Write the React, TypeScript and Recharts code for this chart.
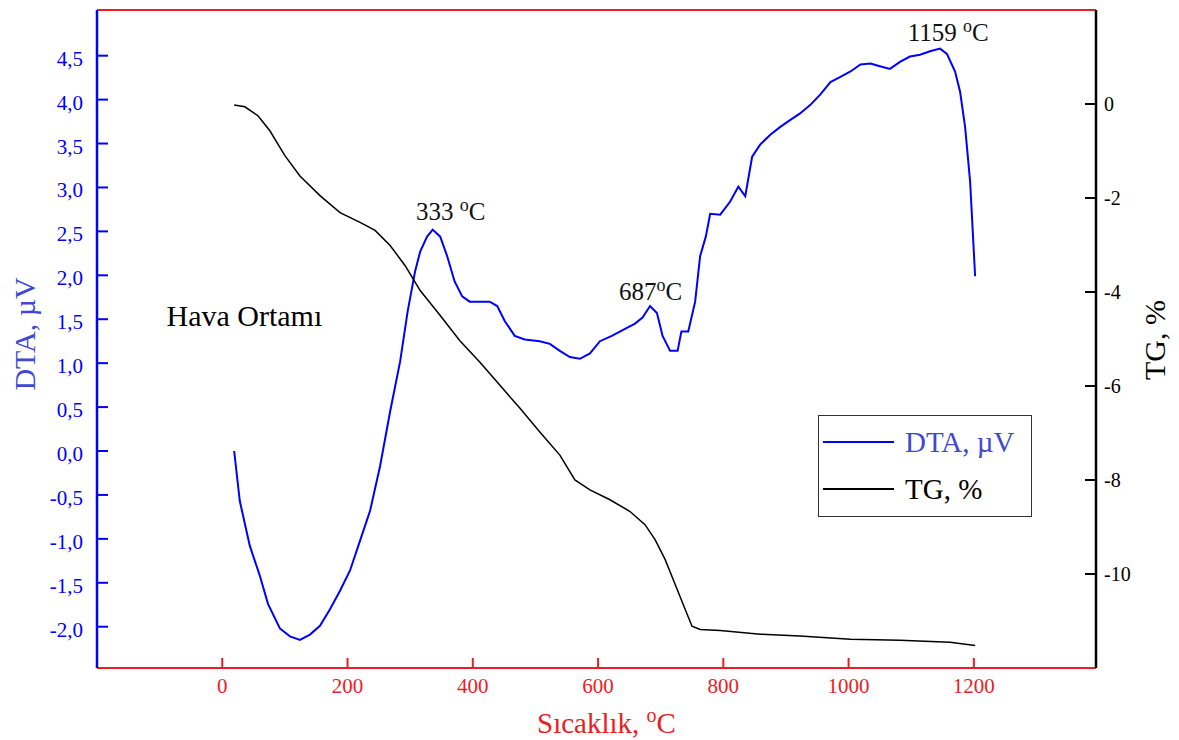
import { LineChart, Line, XAxis, YAxis, ReferenceDot, Legend } from 'recharts';

const SERIF = '"Liberation Serif", "Times New Roman", serif';
const RED = '#ee1c25';
const BLUE = '#0000ff';
const TITLE_BLUE = '#4048d4';

// DTA curve: [temperature °C, µV]
const dtaPoints: [number, number][] = [
  [19, 0], [28, -0.57], [44, -1.08], [60, -1.42], [73, -1.74], [92, -2.02], [108, -2.11],
  [124, -2.15], [140, -2.09], [156, -1.99], [172, -1.8], [188, -1.59], [204, -1.36],
  [220, -1.02], [236, -0.68], [252, -0.17], [268, 0.45], [284, 1.02], [296, 1.59],
  [308, 2.05], [316, 2.27], [327, 2.44], [336, 2.52], [348, 2.44], [359, 2.22],
  [371, 1.93], [383, 1.76], [395, 1.7], [411, 1.7], [427, 1.7], [439, 1.65], [451, 1.48],
  [467, 1.31], [483, 1.27], [507, 1.25], [523, 1.22], [539, 1.14], [555, 1.07],
  [571, 1.05], [587, 1.11], [603, 1.25], [622, 1.31], [643, 1.39], [659, 1.45],
  [671, 1.52], [683, 1.65], [694, 1.57], [703, 1.31], [715, 1.14], [727, 1.14],
  [733, 1.36], [744, 1.36], [755, 1.7], [763, 2.22], [772, 2.44], [779, 2.7], [795, 2.69],
  [811, 2.84], [824, 3.01], [835, 2.9], [846, 3.35], [859, 3.49], [875, 3.6], [891, 3.69],
  [907, 3.77], [922, 3.84], [939, 3.94], [955, 4.06], [971, 4.2], [987, 4.26],
  [1003, 4.32], [1019, 4.4], [1035, 4.41], [1050, 4.38], [1066, 4.35], [1082, 4.43],
  [1098, 4.49], [1114, 4.51], [1130, 4.55], [1146, 4.58], [1157, 4.52], [1170, 4.32],
  [1178, 4.09], [1186, 3.69], [1194, 3.07], [1202, 1.99],
];

// TG curve: [temperature °C, %]
const tgPoints: [number, number][] = [
  [19, -0.02], [36, -0.06], [57, -0.25], [76, -0.57], [100, -1.1], [124, -1.53],
  [156, -1.95], [188, -2.31], [220, -2.52], [244, -2.69], [268, -3.01], [292, -3.44],
  [316, -3.97], [348, -4.5], [379, -5.03], [411, -5.49], [443, -5.98], [475, -6.47],
  [507, -6.98], [539, -7.47], [563, -8.0], [587, -8.21], [619, -8.42], [651, -8.67],
  [675, -8.95], [691, -9.27], [707, -9.69], [723, -10.22], [739, -10.75], [750, -11.11],
  [763, -11.18], [795, -11.2], [859, -11.28], [922, -11.32], [1003, -11.39],
  [1082, -11.41], [1162, -11.45], [1202, -11.52],
];

const tempTicks = [0, 200, 400, 600, 800, 1000, 1200];
const dtaTicks = [-2, -1.5, -1, -0.5, 0, 0.5, 1, 1.5, 2, 2.5, 3, 3.5, 4, 4.5];
const tgTicks = [-10, -8, -6, -4, -2, 0];

const peakTemps = [333, 687, 1159];
const peakDta = [2.52, 1.65, 4.58];
const peakText = ['333 ', '687', '1159 '];

const dtaData = dtaPoints.map(([t, v]) => ({ t, v }));
const tgData = tgPoints.map(([t, v]) => ({ t, v }));

const peakOffsets = [
  { dx: 20, dy: -10 },
  { dx: -2, dy: -6 },
  { dx: 0, dy: -8 },
];

const comma = (v: number) => v.toFixed(1).replace('.', ',');

function BottomTick({ x, y, payload }: any) {
  return (
    <g>
      <line x1={x} y1={y} x2={x} y2={y - 10} stroke={RED} strokeWidth={2} />
      <text x={x} y={y + 25} textAnchor="middle" fill={RED} fontFamily={SERIF} fontSize={21}>
        {payload.value}
      </text>
    </g>
  );
}

function TopTick({ x, y }: any) {
  return <line x1={x} y1={y} x2={x} y2={y + 10} stroke={RED} strokeWidth={2} />;
}

function LeftTick({ x, y, payload }: any) {
  return (
    <g>
      <line x1={x} y1={y} x2={x + 11} y2={y} stroke={BLUE} strokeWidth={2} />
      <text x={x - 14} y={y + 10} textAnchor="end" fill={BLUE} fontFamily={SERIF} fontSize={21}>
        {comma(payload.value)}
      </text>
    </g>
  );
}

function RightTick({ x, y, payload }: any) {
  return (
    <g>
      <line x1={x} y1={y} x2={x - 11} y2={y} stroke="#000" strokeWidth={2} />
      <text x={x + 8} y={y + 7} textAnchor="start" fill="#000" fontFamily={SERIF} fontSize={20}>
        {payload.value}
      </text>
    </g>
  );
}

function PeakLabel({ viewBox, text, dx, dy }: any) {
  const x = viewBox.x + viewBox.width / 2 + dx;
  const y = viewBox.y + viewBox.height / 2 + dy;
  return (
    <text x={x} y={y} textAnchor="middle" fontFamily={SERIF} fontSize={25} fill="#111">
      {text}
      <tspan dy={-9} fontSize={18}>o</tspan>
      <tspan dy={9}>C</tspan>
    </text>
  );
}

function NoteLabel({ viewBox }: any) {
  return (
    <text x={viewBox.x} y={viewBox.y} fontFamily={SERIF} fontSize={30} fill="#000">
      Hava Ortamı
    </text>
  );
}

function DtaTitle({ viewBox }: any) {
  const x = viewBox.x + 18;
  const y = viewBox.y + viewBox.height / 2 - 5;
  return (
    <text x={x} y={y} transform={`rotate(-90, ${x}, ${y})`} textAnchor="middle"
      fontFamily={SERIF} fontSize={30} fill={TITLE_BLUE}>
      DTA, µV
    </text>
  );
}

function TgTitle({ viewBox }: any) {
  const x = viewBox.x + 69;
  const y = viewBox.y + viewBox.height / 2 + 1;
  return (
    <text x={x} y={y} transform={`rotate(-90, ${x}, ${y})`} textAnchor="middle"
      fontFamily={SERIF} fontSize={30} fill="#000">
      TG, %
    </text>
  );
}

function TempTitle({ viewBox }: any) {
  const x = viewBox.x + viewBox.width / 2 + 10;
  const y = viewBox.y + 65;
  return (
    <text x={x} y={y} textAnchor="middle" fontFamily={SERIF} fontSize={29} fill={RED}>
      {'Sıcaklık, '}
      <tspan dy={-11} fontSize={20}>o</tspan>
      <tspan dy={11}>C</tspan>
    </text>
  );
}

function LegendBox({ payload }: any) {
  return (
    <div
      style={{
        width: 214,
        height: 102,
        boxSizing: 'border-box',
        border: '1.5px solid #333',
        background: '#fff',
        position: 'relative',
        fontFamily: SERIF,
        fontSize: 29,
      }}
    >
      {(payload ?? []).map((item: any, i: number) => (
        <div key={item.value} style={{ position: 'absolute', left: 0, top: 8 + i * 47, height: 36, width: '100%' }}>
          <div style={{ position: 'absolute', left: 4, top: 17, width: 71, height: 0, borderTop: `2.5px solid ${item.color}` }} />
          <span style={{ position: 'absolute', left: 86, top: 0, lineHeight: '36px', color: i === 0 ? TITLE_BLUE : '#000' }}>
            {item.value}
          </span>
        </div>
      ))}
    </div>
  );
}

export default function App() {
  return (
    <div style={{ background: '#fff' }}>
      <LineChart width={1171} height={732} margin={{ top: 1, right: 3, bottom: 12, left: 9 }}>
        <XAxis
          xAxisId="x"
          dataKey="t"
          type="number"
          domain={[-200, 1395]}
          ticks={tempTicks}
          interval={0}
          allowDataOverflow
          height={60}
          axisLine={{ stroke: RED, strokeWidth: 2 }}
          tickLine={false}
          tickSize={0}
          tickMargin={0}
          tick={<BottomTick />}
          label={<TempTitle />}
        />
        <XAxis
          xAxisId="top"
          orientation="top"
          type="number"
          domain={[-200, 1395]}
          ticks={tempTicks}
          interval={0}
          allowDataOverflow
          height={1}
          axisLine={{ stroke: RED, strokeWidth: 2 }}
          tickLine={false}
          tickSize={0}
          tickMargin={0}
          tick={<TopTick />}
        />
        <YAxis
          yAxisId="dta"
          type="number"
          domain={[-2.47, 5.02]}
          ticks={dtaTicks}
          interval={0}
          allowDataOverflow
          width={80}
          axisLine={{ stroke: BLUE, strokeWidth: 2.5 }}
          tickLine={false}
          tickSize={0}
          tickMargin={0}
          tick={<LeftTick />}
          label={<DtaTitle />}
        />
        <YAxis
          yAxisId="tg"
          orientation="right"
          type="number"
          domain={[-12, 2]}
          ticks={tgTicks}
          interval={0}
          allowDataOverflow
          width={80}
          axisLine={{ stroke: '#000', strokeWidth: 2.5 }}
          tickLine={false}
          tickSize={0}
          tickMargin={0}
          tick={<RightTick />}
          label={<TgTitle />}
        />
        <Line
          xAxisId="x"
          yAxisId="dta"
          data={dtaData}
          dataKey="v"
          name="DTA, µV"
          type="linear"
          stroke={BLUE}
          strokeWidth={2}
          dot={false}
          isAnimationActive={false}
        />
        <Line
          xAxisId="x"
          yAxisId="tg"
          data={tgData}
          dataKey="v"
          name="TG, %"
          type="linear"
          stroke="#000"
          strokeWidth={1.5}
          dot={false}
          isAnimationActive={false}
        />
        {peakTemps.map((t, i) => (
          <ReferenceDot
            key={t}
            xAxisId="x"
            yAxisId="dta"
            x={t}
            y={peakDta[i]}
            r={0}
            fill="none"
            stroke="none"
            ifOverflow="visible"
            label={<PeakLabel text={peakText[i]} dx={peakOffsets[i].dx} dy={peakOffsets[i].dy} />}
          />
        ))}
        <ReferenceDot
          xAxisId="x"
          yAxisId="dta"
          x={-89}
          y={1.42}
          r={0}
          fill="none"
          stroke="none"
          ifOverflow="visible"
          label={<NoteLabel />}
        />
        <Legend
          layout="vertical"
          align="center"
          verticalAlign="middle"
          content={<LegendBox />}
          wrapperStyle={{ left: 810, top: 407, width: 214, height: 102 }}
        />
      </LineChart>
    </div>
  );
}
